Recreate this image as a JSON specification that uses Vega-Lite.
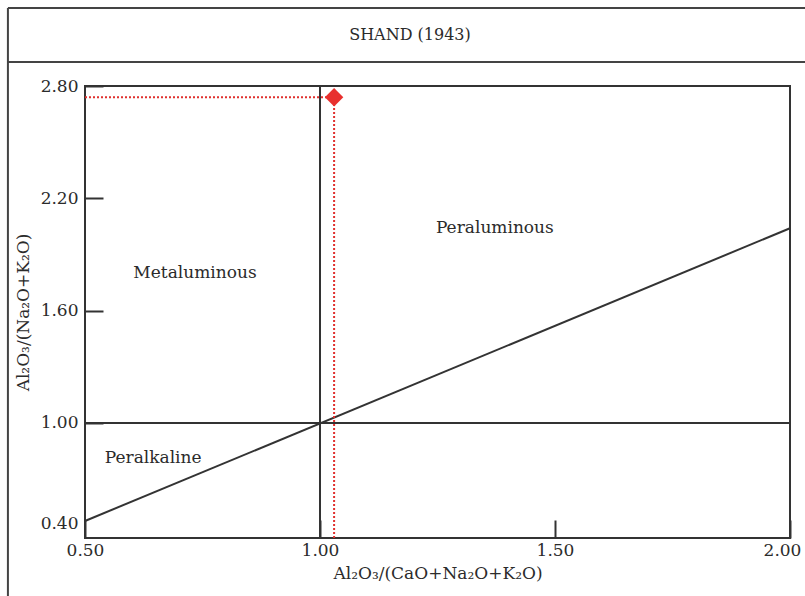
{
  "$schema": "https://vega.github.io/schema/vega-lite/v6.json",
  "width": 705,
  "height": 452,
  "autosize": {"type": "none"},
  "padding": {"left": 85, "top": 86, "right": 15, "bottom": 58},
  "background": "white",
  "config": {
    "view": {"stroke": "#333333", "strokeWidth": 2},
    "axis": {"labelFont": "DejaVu Serif", "titleFont": "DejaVu Serif", "labelColor": "#2b2b2b", "titleColor": "#2b2b2b", "labelFontSize": 17, "titleFontSize": 17, "titleFontWeight": "normal", "domain": false, "grid": false, "tickColor": "#333333", "tickWidth": 2, "labelFlush": false}
  },
  "datasets": {
    "bounds": [
      {"x": 1.0, "y": 0.385, "x2": 1.0, "y2": 2.8},
      {"x": 0.5, "y": 1.0, "x2": 2.0, "y2": 1.0}
    ],
    "diagonal": [
      {"x": 0.5, "y": 0.476},
      {"x": 2.0, "y": 2.04}
    ],
    "guides": [
      {"x": 0.5, "y": 2.74, "x2": 1.03, "y2": 2.74},
      {"x": 1.03, "y": 0.385, "x2": 1.03, "y2": 2.74}
    ],
    "sample": [
      {"a_cnk": 1.03, "a_nk": 2.74}
    ],
    "regions": [
      {"name": "Metaluminous", "x": 0.734, "y": 1.8},
      {"name": "Peraluminous", "x": 1.372, "y": 2.04},
      {"name": "Peralkaline", "x": 0.645, "y": 0.813}
    ]
  },
  "layer": [
    {
      "data": {"name": "bounds"},
      "mark": {"type": "rule", "color": "#333333", "strokeWidth": 2},
      "encoding": {
        "x": {"field": "x", "type": "quantitative", "scale": {"domain": [0.5, 2.0], "nice": false, "zero": false},
          "axis": {"values": [0.5, 1.0, 1.5, 2.0], "format": ".2f", "tickSize": -18, "labelPadding": 22,
            "labelOffset": {"condition": {"test": "datum.value > 1.9", "value": -8}, "value": 0},
            "title": "Al₂O₃/(CaO+Na₂O+K₂O)", "titlePadding": 7}},
        "y": {"field": "y", "type": "quantitative", "scale": {"domain": [0.385, 2.8], "nice": false, "zero": false},
          "axis": {"values": [0.4, 1.0, 1.6, 2.2, 2.8], "format": ".2f", "tickSize": -18, "labelPadding": 25,
            "labelOffset": {"condition": {"test": "datum.value < 0.5", "value": -12}, "value": 0},
            "tickOpacity": {"condition": {"test": "datum.value < 0.5", "value": 0}, "value": 1},
            "title": "Al₂O₃/(Na₂O+K₂O)", "titlePadding": 8}},
        "x2": {"field": "x2"},
        "y2": {"field": "y2"}
      }
    },
    {
      "data": {"name": "diagonal"},
      "mark": {"type": "line", "color": "#333333", "strokeWidth": 2},
      "encoding": {
        "x": {"field": "x", "type": "quantitative"},
        "y": {"field": "y", "type": "quantitative"}
      }
    },
    {
      "data": {"name": "guides"},
      "mark": {"type": "rule", "color": "#e0302e", "strokeWidth": 2, "strokeDash": [2, 2]},
      "encoding": {
        "x": {"field": "x", "type": "quantitative"},
        "y": {"field": "y", "type": "quantitative"},
        "x2": {"field": "x2"},
        "y2": {"field": "y2"}
      }
    },
    {
      "data": {"name": "sample"},
      "mark": {"type": "point", "shape": "diamond", "filled": true, "color": "#e8302e", "opacity": 1, "size": 340},
      "encoding": {
        "x": {"field": "a_cnk", "type": "quantitative"},
        "y": {"field": "a_nk", "type": "quantitative"}
      }
    },
    {
      "data": {"name": "regions"},
      "mark": {"type": "text", "font": "DejaVu Serif", "fontSize": 17, "color": "#2b2b2b", "align": "center", "baseline": "middle"},
      "encoding": {
        "x": {"field": "x", "type": "quantitative"},
        "y": {"field": "y", "type": "quantitative"},
        "text": {"field": "name"}
      }
    },
    {
      "data": {"values": [{"title": "SHAND (1943)"}]},
      "mark": {"type": "rule", "color": "#444444", "strokeWidth": 2},
      "encoding": {"x": {"datum": 0.336, "type": "quantitative"}, "y": {"datum": 0.075, "type": "quantitative"}, "y2": {"datum": 3.217, "type": "quantitative"}}
    },
    {
      "data": {"values": [{"title": "SHAND (1943)"}]},
      "mark": {"type": "rule", "color": "#444444", "strokeWidth": 2},
      "encoding": {"x": {"datum": 0.336, "type": "quantitative"}, "x2": {"datum": 2.05, "type": "quantitative"}, "y": {"datum": 3.217, "type": "quantitative"}}
    },
    {
      "data": {"values": [{"title": "SHAND (1943)"}]},
      "mark": {"type": "rule", "color": "#444444", "strokeWidth": 2},
      "encoding": {"x": {"datum": 0.336, "type": "quantitative"}, "x2": {"datum": 2.05, "type": "quantitative"}, "y": {"datum": 2.928, "type": "quantitative"}}
    },
    {
      "data": {"values": [{"title": "SHAND (1943)"}]},
      "mark": {"type": "text", "font": "DejaVu Serif", "fontSize": 16, "color": "#2b2b2b", "align": "center", "baseline": "middle"},
      "encoding": {"x": {"datum": 1.1915, "type": "quantitative"}, "y": {"datum": 3.072, "type": "quantitative"}, "text": {"field": "title", "type": "nominal"}}
    }
  ]
}
